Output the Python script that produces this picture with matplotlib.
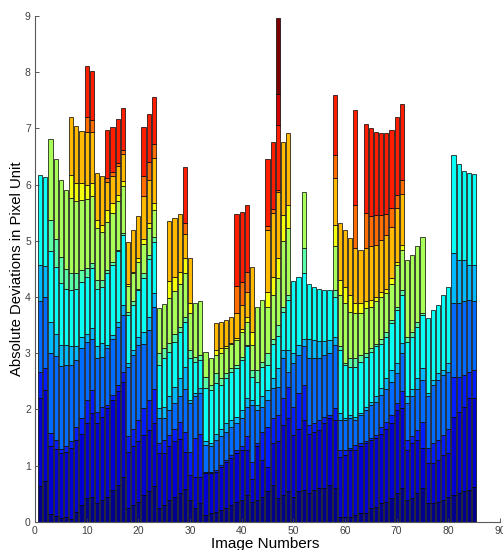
import numpy as np
import matplotlib as mp
mp.use('Agg')
import matplotlib.pyplot as plt

# stacked deviations per image; each list holds the cumulative top of one band
# (None = band not present for that image)
image_numbers = list(range(1, 86))
N = None

band_1 = [0.63, 0.72, 0.14, 0.10, 0.06, 0.09, 0.05, 0.18, 0.30, 0.42,
          0.45, 0.33, 0.39, 0.45, 0.57, 0.65, 0.80, 0.24, 0.30, 0.36,
          0.48, 0.54, 0.63, 0.24, 0.30, 0.39, 0.45, 0.51, 0.59, 0.39,
          0.25, 0.33, 0.12, 0.15, 0.18, 0.21, 0.24, 0.30, 0.36, 0.39,
          0.47, 0.36, 0.39, 0.44, 0.54, 0.65, 0.42, 0.48, 0.54, 0.45,
          0.54, 0.57, 0.51, 0.57, 0.60, 0.60, 0.65, 0.60, 0.09, 0.09,
          0.09, 0.12, 0.15, 0.15, 0.24, 0.27, 0.33, 0.36, 0.42, 0.51,
          0.60, 0.39, 0.42, 0.51, 0.60, 0.33, 0.33, 0.36, 0.39, 0.45,
          0.48, 0.51, 0.54, 0.57, 0.62]
band_2 = [2.20, 2.35, 1.35, 1.30, 1.22, 1.25, 1.31, 1.45, 1.57, 1.75,
          1.93, 1.75, 1.87, 2.02, 2.17, 2.32, 2.49, 1.25, 1.34, 1.43,
          1.54, 1.63, 1.75, 1.22, 1.22, 1.34, 1.43, 1.48, 1.25, 0.83,
          0.80, 0.80, 0.86, 0.86, 0.89, 0.98, 1.07, 1.13, 1.22, 1.28,
          1.28, 0.77, 1.34, 1.10, 0.98, 1.40, 1.43, 1.72, 1.84, 1.55,
          1.66, 1.81, 1.57, 1.60, 1.63, 1.75, 1.84, 1.81, 1.16, 1.19,
          1.28, 1.28, 1.34, 1.40, 1.46, 1.49, 1.57, 1.66, 1.75, 1.99,
          2.02, 1.28, 1.40, 1.46, 1.31, 1.04, 1.04, 1.10, 1.19, 1.22,
          1.87, 1.96, 2.05, 2.20, 2.20]
band_3 = [2.67, 2.73, 1.58, 1.45, 1.30, 1.34, 1.43, 1.69, 1.84, 2.17,
          2.35, 1.96, 2.05, 2.08, 2.26, 2.43, 2.67, 1.52, 1.66, 1.81,
          2.02, 2.17, 2.37, 1.40, 1.46, 1.54, 1.66, 1.78, 1.60, 1.25,
          1.49, 1.57, 0.89, 0.89, 0.92, 1.01, 1.10, 1.19, 1.28, 1.34,
          1.52, 1.07, 1.40, 1.60, 1.69, 1.84, 1.90, 2.20, 2.40, 2.05,
          2.29, 2.43, 1.72, 1.75, 1.81, 1.87, 1.90, 2.02, 1.28, 1.28,
          1.31, 1.37, 1.40, 1.43, 1.49, 1.54, 1.69, 1.78, 1.90, 2.11,
          2.32, 1.46, 1.52, 1.63, 1.78, 1.31, 1.40, 1.46, 1.55, 1.66,
          2.58, 2.58, 2.61, 2.67, 2.70]
band_4 = [3.93, 4.00, 3.00, 2.95, 2.78, 2.79, 2.79, 2.88, 3.10, 3.20,
          3.26, 2.91, 2.94, 3.09, 3.26, 3.47, 3.68, 2.76, 2.97, 3.14,
          3.17, 3.41, 3.83, 1.84, 1.84, 1.99, 2.11, 2.23, 2.37, 2.11,
          2.23, 2.29, 1.37, 1.34, 1.46, 1.52, 1.60, 1.69, 1.75, 1.84,
          2.05, 2.08, 1.99, 2.05, 2.17, 2.38, 2.40, 2.91, 2.67, 2.82,
          2.97, 3.12, 2.91, 2.91, 2.91, 2.97, 3.00, 3.15, 1.81, 1.81,
          1.84, 1.81, 1.90, 1.99, 2.08, 2.14, 2.26, 2.37, 2.49, 2.64,
          3.00, 2.11, 2.23, 2.37, 2.52, 2.23, 2.43, 2.52, 2.61, 2.67,
          3.89, 3.89, 3.92, 3.95, 3.92]
band_5 = [4.57, 4.55, 3.55, 3.35, 3.15, 3.15, 3.12, 3.12, 3.29, 3.35,
          3.44, 3.12, 3.18, 3.15, 3.32, 3.56, 3.86, 2.82, 3.06, 3.29,
          3.38, 3.65, 4.07, 2.02, 2.05, 2.23, 2.40, 2.55, 2.76, 2.17,
          2.29, 2.38, 1.43, 1.40, 1.57, 1.66, 1.75, 1.81, 1.87, 1.99,
          2.20, 2.17, 2.08, 2.23, 2.35, 2.55, 2.73, 3.06, 3.06, 3.00,
          3.15, 3.26, 3.26, 3.23, 3.21, 3.22, 3.23, 3.29, 1.93, 1.84,
          1.90, 1.87, 1.93, 2.05, 2.14, 2.23, 2.38, 2.55, 2.70, 2.82,
          3.18, 2.23, 2.37, 2.55, 2.73, 2.29, 2.52, 2.64, 2.70, 2.82,
          4.78, 4.66, 4.66, 4.57, 4.57]
band_6 = [6.17, 6.13, 4.81, 4.54, 4.25, 4.15, 4.12, 4.15, 4.27, 4.36,
          4.51, 4.15, 4.18, 4.42, 4.57, 4.81, 5.10, 3.68, 3.86, 4.12,
          4.33, 4.68, 4.98, 2.79, 2.91, 3.03, 3.20, 3.38, 3.56, 2.91,
          2.85, 2.88, 2.38, 2.35, 2.47, 2.44, 2.55, 2.67, 2.73, 2.88,
          3.12, 2.58, 2.49, 2.76, 2.79, 3.17, 3.31, 3.74, 3.95, 4.29,
          4.35, 4.42, 4.24, 4.18, 4.15, 4.12, 4.12, 4.00, 3.06, 2.79,
          2.76, 2.76, 2.85, 2.94, 3.03, 3.12, 3.17, 3.29, 3.53, 3.77,
          4.04, 3.20, 3.29, 3.47, 3.68, 3.62, 3.77, 3.86, 4.04, 4.18,
          6.53, 6.37, 6.25, 6.20, 6.18]
band_7 = [N, N, 5.37, 5.04, 4.72, 4.50, 4.42, 4.42, 4.48, 4.51,
          4.60, 4.30, 4.30, 4.48, 4.63, 4.84, 5.13, 3.74, 3.92, 4.15,
          4.42, 4.75, 5.07, 3.00, 3.09, 3.18, 3.35, 3.47, 3.65, 3.06,
          2.94, 2.97, 2.58, 2.44, 2.64, 2.55, 2.64, 2.73, 2.79, 2.94,
          3.15, 2.70, 2.70, 2.85, 3.01, 3.26, 3.50, 3.83, 4.03, N,
          N, 4.88, N, N, N, N, N, 4.12, 3.12, 2.82,
          2.91, 2.91, 2.97, 3.00, 3.09, 3.17, 3.26, 3.38, 3.59, 3.83,
          4.12, 3.29, 3.38, 3.56, 3.72, N, N, N, N, N,
          N, N, N, N, N]
band_8 = [N, N, 6.81, 6.45, 6.08, 5.90, 5.76, 5.70, 5.73, 5.75,
          5.79, 5.22, 5.16, 5.33, 5.49, 5.70, 5.98, 4.20, 4.42, 4.63,
          4.94, 5.22, 5.55, 3.80, 3.87, 3.98, 4.10, 4.24, 4.42, 3.71,
          3.89, 3.93, 3.03, 2.91, 2.97, 3.00, 3.09, 3.17, 3.24, 3.38,
          3.56, 3.15, 3.83, 3.95, 3.83, 4.03, 4.33, 4.99, 5.22, N,
          N, 5.87, N, N, N, N, N, 4.90, 4.04, 3.89,
          3.74, 3.71, 3.71, 3.80, 3.83, 3.92, 4.00, 4.07, 4.24, 4.57,
          4.83, 4.66, 4.75, 4.90, 5.06, N, N, N, N, N,
          N, N, N, N, N]
band_9 = [N, N, N, N, N, N, 6.17, 6.03, 6.02, 5.99,
          6.02, 5.37, 5.28, 5.55, 5.67, 5.81, 6.07, 4.23, 4.45, 4.69,
          5.03, 5.32, 5.68, N, N, 4.29, 4.36, 4.45, 4.69, 3.89,
          N, N, N, N, 3.06, 3.09, 3.12, 3.19, 3.27, 3.43,
          3.65, 3.38, N, N, 4.09, 4.36, 4.69, 5.46, 5.64, N,
          N, N, N, N, N, N, N, 5.28, 4.30, 4.18,
          4.04, 3.89, 3.89, 3.92, 3.95, 4.00, 4.09, 4.15, 4.33, 4.63,
          4.92] + [N] * 14
band_10 = [N, N, N, N, N, N, 7.20, 7.04, 6.96, 6.94,
           6.94, 6.20, 6.16, 6.05, 6.15, 6.33, 6.54, 4.98, 5.19, 5.45,
           5.80, 6.08, 6.47, N, N, 5.36, 5.40, 5.48, 5.12, 4.69,
           N, N, N, N, 3.53, 3.55, 3.59, 3.65, 3.71, 3.86,
           4.09, 4.53, N, N, 5.20, 5.50, 5.87, 6.76, 6.91, N,
           N, N, N, N, N, N, N, 6.11, 5.32, 5.20,
           5.05, 4.87, 4.84, 4.87, 4.90, 4.92, 5.01, 5.10, 5.25, 5.58,
           5.84] + [N] * 14
band_11 = [N] * 9 + [7.20, 7.15, N, N, 6.12, 6.23, 6.39, 6.62, N, N, N,
           6.15, 6.41, 6.73, N, N, N, N, N, 5.31, N,
           N, N, N, N, N, N, N, N, 4.20, 4.27,
           4.45, N, N, N, 5.26, 5.56, 5.90, N, N, N,
           N, N, N, N, N, N, N, 6.53, N, N,
           N, 5.64, N, 5.50, 5.44, 5.46, 5.46, 5.48, 5.58, 5.81,
           6.08] + [N] * 14
band_12 = [N] * 9 + [8.11, 8.03, N, N, 6.97, 7.03, 7.16, 7.37, N, N, N,
           7.03, 7.26, 7.55, N, N, N, N, N, 6.31, N,
           N, N, N, N, N, N, N, N, 5.48, 5.52,
           5.64, N, N, N, 6.45, 6.75, 7.06, N, N, N,
           N, N, N, N, N, N, N, 7.59, N, N,
           N, 7.32, N, 7.07, 7.00, 6.94, 6.91, 6.91, 6.97, 7.20,
           7.43] + [N] * 14
band_13 = [N] * 46 + [7.62] + [N] * 38
band_14 = [N] * 46 + [8.96] + [N] * 38

x_ticks = [0, 10, 20, 30, 40, 50, 60, 70, 80, 90]
y_ticks = [0, 1, 2, 3, 4, 5, 6, 7, 8, 9]


def matlab_jet(t):
    r = np.interp(t, [0, 3/8, 5/8, 7/8, 1], [0, 0, 1, 1, 0.5])
    g = np.interp(t, [0, 1/8, 3/8, 5/8, 7/8, 1], [0, 0, 1, 1, 0, 0])
    b = np.interp(t, [0, 1/8, 3/8, 5/8, 1], [0.5625, 1, 1, 0, 0])
    return (r, g, b)


bands = [band_1, band_2, band_3, band_4, band_5, band_6, band_7,
         band_8, band_9, band_10, band_11, band_12, band_13, band_14]

plt.rcParams['font.family'] = ['Liberation Sans', 'DejaVu Sans']
fig = plt.figure(figsize=(5.03, 5.50), dpi=100)
ax = fig.add_axes([35/503, 28.2/550, 465/503, 505.8/550])

xs = np.array(image_numbers, dtype=float)
bottom = np.zeros(len(xs))
for i, band in enumerate(bands):
    top = np.array(band, dtype=float)
    ok = ~np.isnan(top)
    ax.bar(xs[ok], top[ok] - bottom[ok], bottom=bottom[ok], width=0.8,
           color=matlab_jet(i / (len(bands) - 1)), edgecolor='black', linewidth=0.5)
    bottom[ok] = top[ok]

ax.set_xlim(0, 90)
ax.set_ylim(0, 9)
ax.set_xticks(x_ticks)
ax.set_yticks(y_ticks)
ax.tick_params(direction='in', length=3, width=0.6, labelsize=7.5,
               colors='0.25', pad=3)
for side in ['top', 'right']:
    ax.spines[side].set_visible(False)
for side in ['left', 'bottom']:
    ax.spines[side].set_color('0.35')
    ax.spines[side].set_linewidth(0.8)

ax.set_xlabel('Image Numbers', fontsize=11, va='center')
ax.set_ylabel('Absolute Deviations in Pixel Unit', fontsize=10.7, va='center')
ax.xaxis.set_label_coords(0.495, -0.044)
ax.yaxis.set_label_coords(-0.039, 0.50)

fig.savefig('out.png', dpi=100)
